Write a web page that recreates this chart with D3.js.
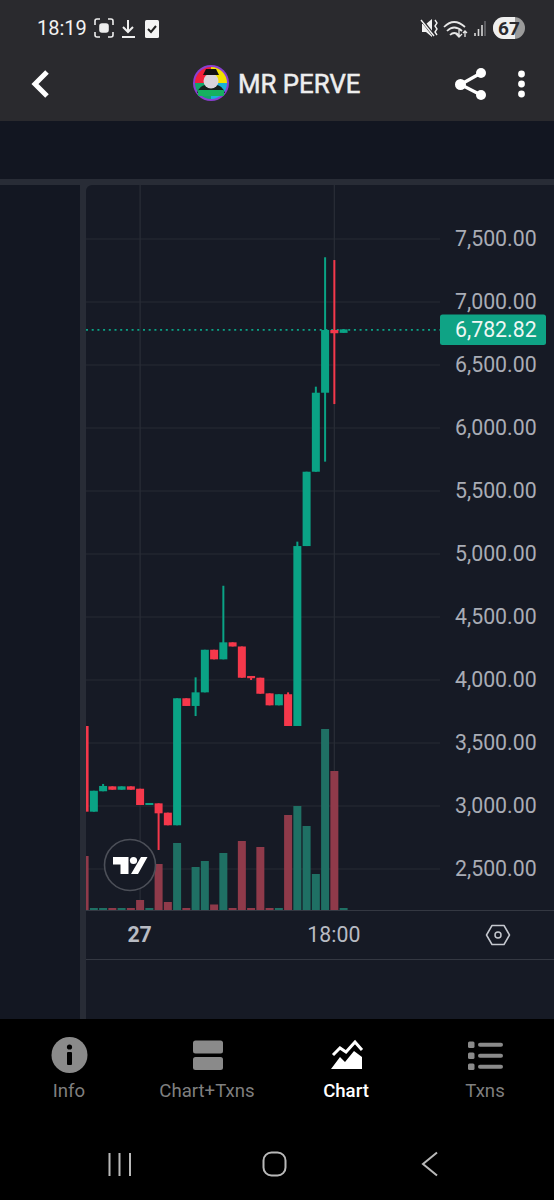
<!DOCTYPE html>
<html>
<head>
<meta charset="utf-8">
<script src="https://cdn.jsdelivr.net/npm/d3@7"></script>
<style>
  html, body { margin: 0; padding: 0; background: #000; }
  svg { display: block; }
  text { font-family: Roboto, sans-serif; }
</style>
</head>
<body>
<svg id="phone" width="554" height="1200"></svg>
<script>
// candles (oldest first)
const opens  = [3635, 2955, 3117, 3156, 3129, 3156, 3137, 3008, 3021, 2947, 2847, 3855, 3794, 3902, 4240, 4164, 4299, 4266, 4032, 4018, 3894, 3799, 3887, 3635, 5063, 5653, 6280, 6778, 6755]
const closes = [2955, 3121, 3159, 3129, 3156, 3129, 3008, 3024, 2942, 2847, 3855, 3794, 3902, 4240, 4164, 4299, 4266, 4018, 4014, 3891, 3799, 3887, 3635, 5063, 5653, 6280, 6778, 6752, 6783]
const highs  = [3635, 3121, 3175, 3156, 3156, 3156, 3137, 3024, 3021, 2947, 3855, 3855, 4021, 4240, 4240, 4748, 4299, 4266, 4032, 4018, 3894, 3887, 3902, 5098, 5653, 6328, 7355, 7333, 6783]
const lows   = [2955, 2955, 3117, 3129, 3129, 3129, 3008, 3008, 2651, 2847, 2847, 3794, 3714, 3902, 4164, 4164, 4266, 4018, 4000, 3891, 3799, 3799, 3635, 3635, 5063, 5653, 5733, 6190, 6755]
const volumes = [54, 2, 2, 2, 2, 2, 10, 2, 46, 8, 67, 2, 43, 49, 5.5, 57, 2, 69, 2, 63, 2, 2, 95, 104, 84, 36, 181, 139, 2]

const priceTicks = [2500, 3000, 3500, 4000, 4500, 5000, 5500, 6000, 6500, 7000, 7500]
const lastPrice = 6782.82
const timeTicks = [6, 27]
const timeLabels = ["27", "18:00"]
const tabNames = ["Info", "Chart+Txns", "Chart", "Txns"]
const tabCentres = [69, 207, 346, 485]

const GREEN = "#0aa385"
const RED = "#f5384b"
const VOL_GREEN = "#1f7064"
const VOL_RED = "#8f3a4a"

const svg = d3.select("#phone")

const rect = (g, x, y, w, h, fill, rx) => g.append("rect")
  .attr("x", x).attr("y", y).attr("width", w).attr("height", h)
  .attr("fill", fill).attr("rx", rx || 0)

// page blocks
rect(svg, 0, 0, 554, 121, "#2a2a2e")
rect(svg, 0, 121, 554, 58, "#121621")
rect(svg, 0, 179, 554, 6, "#282c36")
rect(svg, 0, 185, 80, 834, "#131722")
rect(svg, 80, 185, 474, 834, "#282c36")
rect(svg, 86, 185, 480, 850, "#161a25", 6)
rect(svg, 0, 1019, 554, 181, "#000")

const x = d3.scaleLinear().domain([0, 28]).range([84.6, 343.6])
const y = d3.scaleLinear().domain([2500, 7500]).range([869, 239])
const vol = d3.scaleLinear().domain([0, 200]).range([910, 710])
const candleW = 8

svg.append("defs").append("clipPath").attr("id", "plot")
  .append("rect").attr("x", 86).attr("y", 185).attr("width", 354).attr("height", 725)

// grid
const grid = svg.append("g")
grid.selectAll("line.h").data(priceTicks).join("line")
  .attr("class", "h")
  .attr("x1", 86).attr("x2", 440)
  .attr("y1", d => y(d)).attr("y2", d => y(d))
  .attr("stroke", "#272b35").attr("stroke-width", 1.2)
grid.selectAll("line.v").data(timeTicks).join("line")
  .attr("class", "v")
  .attr("x1", d => x(d)).attr("x2", d => x(d))
  .attr("y1", 185).attr("y2", 910)
  .attr("stroke", "#272b35").attr("stroke-width", 1.4)

const plot = svg.append("g").attr("clip-path", "url(#plot)")

// volume bars
plot.selectAll("rect.vol").data(volumes).join("rect")
  .attr("class", "vol")
  .attr("x", (d, i) => x(i) - candleW / 2)
  .attr("width", candleW)
  .attr("y", d => vol(d))
  .attr("height", d => vol(0) - vol(d))
  .attr("fill", (d, i) => closes[i] >= opens[i] ? VOL_GREEN : VOL_RED)

// last price line
plot.append("line")
  .attr("x1", 86).attr("x2", 440)
  .attr("y1", y(lastPrice) + 0.5).attr("y2", y(lastPrice) + 0.5)
  .attr("stroke", GREEN).attr("stroke-width", 1.8)
  .attr("stroke-dasharray", "2 3.7")

// wicks and bodies
plot.selectAll("line.wick").data(opens).join("line")
  .attr("class", "wick")
  .attr("x1", (d, i) => x(i)).attr("x2", (d, i) => x(i))
  .attr("y1", (d, i) => y(highs[i])).attr("y2", (d, i) => y(lows[i]))
  .attr("stroke", (d, i) => closes[i] >= d ? GREEN : RED)
  .attr("stroke-width", 2)

plot.selectAll("rect.body").data(opens).join("rect")
  .attr("class", "body")
  .attr("x", (d, i) => x(i) - candleW / 2)
  .attr("width", candleW)
  .attr("y", (d, i) => y(Math.max(d, closes[i])))
  .attr("height", (d, i) => Math.max(1.5, Math.abs(y(d) - y(closes[i]))))
  .attr("fill", (d, i) => closes[i] >= d ? GREEN : RED)

// price axis
const priceAxis = svg.append("g")
  .attr("transform", "translate(455,0)")
  .call(d3.axisRight(y).tickValues(priceTicks).tickSize(0).tickPadding(0).tickFormat(d3.format(",.2f")))
priceAxis.select(".domain").remove()
priceAxis.selectAll("text")
  .attr("font-size", 21.3).attr("font-family", "Roboto, sans-serif").attr("fill", "#a9acb5")

rect(svg, 440, 314.5, 106, 30.5, "#0fa385", 2.5)
svg.append("text").text(d3.format(",.2f")(lastPrice))
  .attr("x", 455).attr("y", y(lastPrice) + 0.5)
  .attr("dy", "0.35em").attr("font-size", 21.3).attr("fill", "#eef7f4")

// time axis
svg.append("line").attr("x1", 86).attr("x2", 554).attr("y1", 910.5).attr("y2", 910.5).attr("stroke", "#343842").attr("stroke-width", 1.2)
svg.append("line").attr("x1", 86).attr("x2", 554).attr("y1", 959.5).attr("y2", 959.5).attr("stroke", "#343842").attr("stroke-width", 1.2)

const timeAxis = svg.append("g")
  .attr("transform", "translate(-1,934)")
  .call(d3.axisBottom(x).tickValues(timeTicks).tickSize(0).tickPadding(0).tickFormat((d, i) => timeLabels[i]))
timeAxis.select(".domain").remove()
timeAxis.selectAll("text")
  .attr("y", 0).attr("dy", "0.36em")
  .attr("font-size", 21.3).attr("font-family", "Roboto, sans-serif").attr("fill", "#b8bbc3")
  .attr("font-weight", (d, i) => i == 0 ? 700 : 400)

// settings hexagon
svg.append("path").attr("d", "M492 925.5h12l5.5 9.5-5.5 9.5h-12l-5.5-9.5z")
  .attr("fill", "none").attr("stroke", "#c5c8cf").attr("stroke-width", 1.5).attr("stroke-linejoin", "round")
svg.append("circle").attr("cx", 498).attr("cy", 935).attr("r", 3).attr("fill", "none").attr("stroke", "#c5c8cf").attr("stroke-width", 1.5)

// tradingview badge
svg.append("circle").attr("cx", 130).attr("cy", 865).attr("r", 25.5).attr("fill", "#161a25").attr("stroke", "#4c4f58").attr("stroke-width", 1.6)
svg.append("path").attr("d", "M113 857h15.5v17h-8v-9.5h-7.5z M141 857h6.5l-9.5 17h-7z").attr("fill", "#fff")
svg.append("circle").attr("cx", 133.5).attr("cy", 860.5).attr("r", 3.6).attr("fill", "#fff")

// status bar
svg.append("text").text("18:19").attr("x", 37).attr("y", 35).attr("font-size", 20).attr("fill", "#f2f2f2")
const status = svg.append("g").attr("fill", "none").attr("stroke", "#eee").attr("stroke-width", 1.6)
status.append("path").attr("d", "M95 25v-4q0-2 2-2h3 M108 19h3q2 0 2 2v4 M113 32v3q0 2-2 2h-3 M100 37h-3q-2 0-2-2v-3")
status.append("rect").attr("x", 100).attr("y", 24).attr("width", 8).attr("height", 8).attr("rx", 2).attr("fill", "#eee")
status.append("path").attr("d", "M128 20v12 M123 27l5 5 5-5 M122 37h13").attr("stroke-width", 2)
rect(svg, 145, 20, 14, 18, "#f4f4f4", 1.5)
svg.append("path").attr("d", "M148 29l3 3 5-6").attr("fill", "none").attr("stroke", "#222").attr("stroke-width", 2)
svg.append("path").attr("d", "M422 24h4l6-5v18l-6-5h-4z").attr("fill", "#f2f2f2")
svg.append("path").attr("d", "M421 19l14 18").attr("stroke", "#2a2a2e").attr("stroke-width", 3)
svg.append("path").attr("d", "M421 20l13 16 M435 20l2 3-2 3 2 3-2 3 2 3").attr("fill", "none").attr("stroke", "#f2f2f2").attr("stroke-width", 1.4)
svg.append("path").attr("d", "M444 27q10-10 21 0 M447 31q7-7 15 0 M450 35q4-4 9 0").attr("fill", "none").attr("stroke", "#e6e6e6").attr("stroke-width", 1.7)
svg.append("path").attr("d", "M459 30v7 M456 34l3 3 3-3 M465 37v-6 M463 33l2-2 2 2").attr("fill", "none").attr("stroke", "#e6e6e6").attr("stroke-width", 1.3)
svg.append("path").attr("d", "M475 36v-3 M478.5 36v-7 M482 36v-11").attr("stroke", "#d8d8d8").attr("stroke-width", 1.6)
svg.append("path").attr("d", "M485 36v-15").attr("stroke", "#77777b").attr("stroke-width", 1.3)
rect(svg, 493, 17, 32, 22, "#9b9b9b", 11)
svg.append("path").attr("d", "M504 17h11v22h-11a11 11 0 0 1 0-22z").attr("fill", "#efefef")
svg.append("text").text("67").attr("x", 509).attr("y", 35).attr("text-anchor", "middle").attr("font-size", 19).attr("font-weight", 700).attr("fill", "#2a2a2e")

// header
svg.append("path").attr("d", "M47 72L35 84l12 12").attr("fill", "none").attr("stroke", "#fff").attr("stroke-width", 5)
const avatarColours = ["#f2e100", "#18b0d8", "#12a56a", "#f21f3a"]
const avatarArc = d3.arc().innerRadius(0).outerRadius(16)
svg.append("circle").attr("cx", 211).attr("cy", 83).attr("r", 18).attr("fill", "#8a3fd0")
svg.append("g").attr("transform", "translate(211,83)")
  .selectAll("path").data(d3.pie().sort(null)(avatarColours.map(() => 1))).join("path")
  .attr("d", avatarArc).attr("fill", (d, i) => avatarColours[i])
svg.append("path").attr("d", "M197 93q3-8 9-8h10q6 0 9 8z").attr("fill", "#14201c")
rect(svg, 198, 90, 26, 6, "#16b060", 1)
svg.append("circle").attr("cx", 211).attr("cy", 81).attr("r", 7.5).attr("fill", "#d8d3da")
svg.append("path").attr("d", "M203 75h16l-3-6h-10z").attr("fill", "#111")
svg.append("text").text("MR PERVE").attr("x", 238).attr("y", 93).attr("font-family", "Liberation Sans, sans-serif").attr("font-size", 25.8).attr("stroke", "#eee").attr("stroke-width", 0.5).attr("fill", "#eee")

svg.append("path").attr("d", "M481 73L460.5 84.5 481 95").attr("fill", "none").attr("stroke", "#fff").attr("stroke-width", 3.2)
svg.selectAll("circle.share").data([[481, 73, 5], [460.5, 84.5, 5.5], [481, 95, 5]]).join("circle")
  .attr("class", "share").attr("cx", d => d[0]).attr("cy", d => d[1]).attr("r", d => d[2]).attr("fill", "#fff")
svg.selectAll("circle.more").data([74, 84, 94]).join("circle")
  .attr("class", "more").attr("cx", 521.5).attr("cy", d => d).attr("r", 3.4).attr("fill", "#fff")

// bottom tabs
svg.selectAll("text.tab").data(tabNames).join("text")
  .attr("class", "tab").text(d => d)
  .attr("x", (d, i) => tabCentres[i]).attr("y", 1097)
  .attr("text-anchor", "middle").attr("font-size", 18.6)
  .attr("font-weight", (d, i) => i == 2 ? 500 : 400)
  .attr("fill", (d, i) => i == 2 ? "#fff" : "#7f7f7f")

svg.append("circle").attr("cx", 69.5).attr("cy", 1055).attr("r", 18).attr("fill", "#8a8a8a")
rect(svg, 67, 1052, 5, 13, "#000", 1)
svg.append("circle").attr("cx", 69.5).attr("cy", 1047).attr("r", 2.6).attr("fill", "#000")

rect(svg, 193, 1040.5, 30, 13, "#8a8a8a", 2.5)
rect(svg, 193, 1057, 30, 13, "#8a8a8a", 2.5)

svg.append("path").attr("d", "M331 1069l9-12 5 5 9-11 8 6v12z").attr("fill", "#fff")
svg.append("path").attr("d", "M333 1055l7-7 6 4 9-10 7 8").attr("fill", "none").attr("stroke", "#fff").attr("stroke-width", 3)

const txnRows = svg.selectAll("g.row").data([1044.7, 1055.7, 1066.7]).join("g").attr("class", "row")
txnRows.append("rect").attr("x", 468).attr("y", d => d - 3.2).attr("width", 6.5).attr("height", 6.5).attr("rx", 1.5).attr("fill", "#8a8a8a")
txnRows.append("rect").attr("x", 478).attr("y", d => d - 2).attr("width", 25).attr("height", 4).attr("rx", 2).attr("fill", "#8a8a8a")

// android nav
svg.append("path").attr("d", "M109.5 1153v23 M119.5 1153v23 M130 1153v23").attr("stroke", "#b9b9b9").attr("stroke-width", 2)
rect(svg, 263.5, 1152.5, 22, 23, "none", 8).attr("stroke", "#b9b9b9").attr("stroke-width", 2)
svg.append("path").attr("d", "M437 1152.5l-14 11.5 14 11.5").attr("fill", "none").attr("stroke", "#b9b9b9").attr("stroke-width", 2)
</script>
</body>
</html>
